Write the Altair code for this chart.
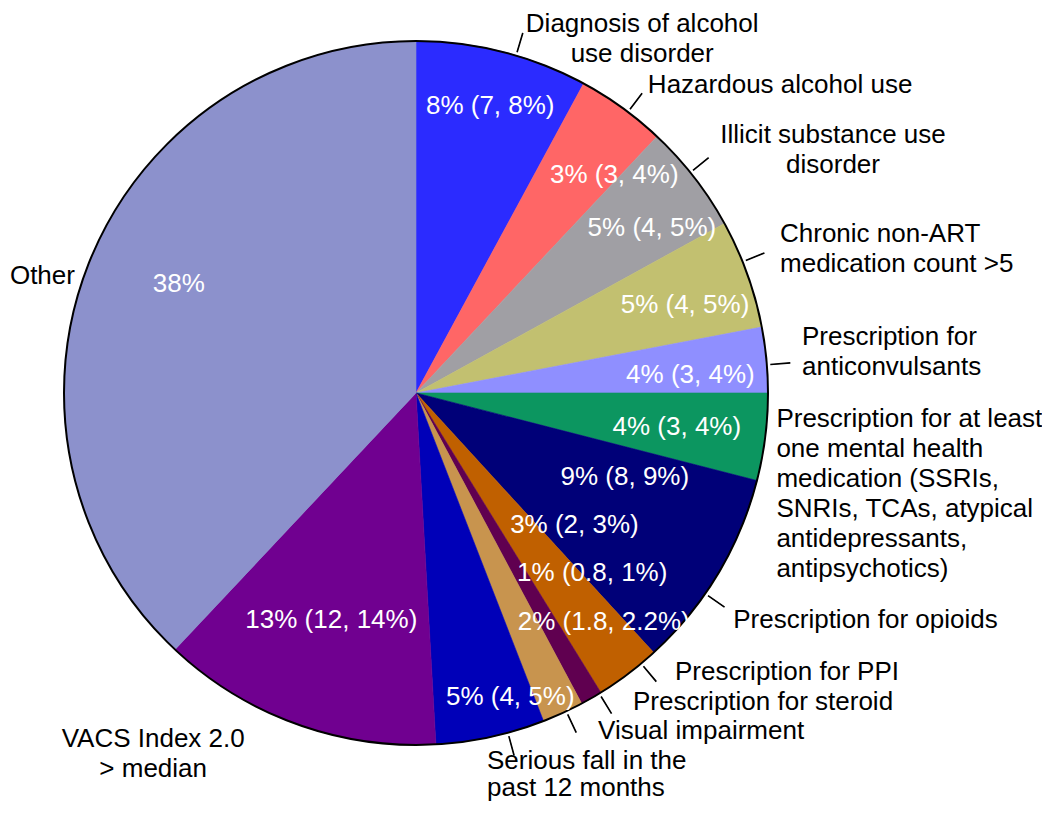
import altair as alt
import pandas as pd

# ---------------- data ----------------
categories = [
    "Diagnosis of alcohol use disorder",
    "Hazardous alcohol use",
    "Illicit substance use disorder",
    "Chronic non-ART medication count >5",
    "Prescription for anticonvulsants",
    "Prescription for at least one mental health medication",
    "Prescription for opioids",
    "Prescription for PPI",
    "Prescription for steroid",
    "Visual impairment",
    "Serious fall in the past 12 months",
    "VACS Index 2.0 > median",
    "Other",
]
slice_share = [7.9, 4.1, 5.0, 5.0, 3.0, 4.0, 9.2, 3.0, 1.0, 1.9, 5.0, 12.9, 38.0]
estimate_labels = [
    "8% (7, 8%)", "3% (3, 4%)", "5% (4, 5%)", "5% (4, 5%)", "4% (3, 4%)",
    "4% (3, 4%)", "9% (8, 9%)", "3% (2, 3%)", "1% (0.8, 1%)", "2% (1.8, 2.2%)",
    "5% (4, 5%)", "13% (12, 14%)", "38%",
]
name_labels = [
    "Diagnosis of alcohol\nuse disorder",
    "Hazardous alcohol use",
    "Illicit substance use\ndisorder",
    "Chronic non-ART\nmedication count >5",
    "Prescription for\nanticonvulsants",
    "Prescription for at least\none mental health\nmedication (SSRIs,\nSNRIs, TCAs, atypical\nantidepressants,\nantipsychotics)",
    "Prescription for opioids",
    "Prescription for PPI",
    "Prescription for steroid",
    "Visual impairment",
    "Serious fall in the\npast 12 months",
    "VACS Index 2.0\n> median",
    "Other",
]

# ---------------- styling / label layout ----------------
slice_colors = ["#2B2BFF", "#FF6666", "#A09FA4", "#C2C070", "#8F8FFF", "#0C9660",
                "#000078", "#C06000", "#600050", "#C8944E", "#0000B8", "#700090", "#8C91CC"]
inner_shift_deg = [0.3, 6.4, 2.8, 1.7, 1.6, 0.2, -9.1, -13.2, -14.5, -14.7, -5.0, 0.5, 3.1]
inner_radius = [296, 295, 288, 283, 275, 263, 225, 206, 252, 296, 318, 242, 261]
outer_shift_deg = [17.85, 1.9, 6.9, -2.7, -1.7, -1.8, 5.6, -4.98, -4.55, -3.09, 1.53, 16.6, -3.9]
outer_radius = [426, 379, 486, 394, 389, 362, 395, 386.6, 383.8, 390.9, 382.2, 441, 358]
outer_align = ["center", "left", "center", "left", "left", "left", "left", "left",
               "left", "left", "left", "center", "right"]
outer_line_height = [30, 30, 30, 30, 30, 30, 30, 30, 30, 30, 27.5, 30, 30]
leader_shift_deg = [2.3, 1.2, -1.0, -2.1, 0.8, None, 3.8, -2.7, -1.5, -0.6, -2.9, None, None]

PIE_R = 352
FONT = "Liberation Sans"

# ---------------- tables ----------------
starts, ends, mids = [], [], []
acc = 0.0
for v in slice_share:
    starts.append(acc)
    acc += v
    ends.append(acc)
    mids.append((starts[-1] + ends[-1]) / 2)

slices = pd.DataFrame({
    "cat": categories,
    "a0": starts,
    "a1": ends,
    "est": estimate_labels,
    "ti": [m + s / 3.6 for m, s in zip(mids, inner_shift_deg)],
    "ri": inner_radius,
})

outer = pd.DataFrame({
    "name": name_labels,
    "to": [m + s / 3.6 for m, s in zip(mids, outer_shift_deg)],
    "ro": outer_radius,
    "align": outer_align,
    "lh": outer_line_height,
})

lead_rows = [(m + s / 3.6) for m, s in zip(mids, leader_shift_deg) if s is not None]
leaders = pd.DataFrame({
    "l0": [t - 0.012 for t in lead_rows],
    "l1": [t + 0.012 for t in lead_rows],
})

theta_scale = alt.Scale(domain=[0, 100])
color_scale = alt.Scale(domain=categories, range=slice_colors)

pie = alt.Chart(slices).mark_arc(radius=PIE_R, strokeWidth=0.6).encode(
    theta=alt.Theta("a0:Q", scale=theta_scale),
    theta2="a1:Q",
    color=alt.Color("cat:N", scale=color_scale, legend=None),
    stroke=alt.Stroke("cat:N", scale=color_scale, legend=None),
)

outline = alt.Chart(pd.DataFrame({"s": [0.0], "e": [100.0]})).mark_arc(
    radius=PIE_R, fillOpacity=0, stroke="black", strokeWidth=2
).encode(
    theta=alt.Theta("s:Q", scale=theta_scale),
    theta2="e:Q",
)

leader_marks = alt.Chart(leaders).mark_arc(
    radius=375, radius2=356, fill="black", stroke="black", strokeWidth=1.1
).encode(
    theta=alt.Theta("l0:Q", scale=theta_scale),
    theta2="l1:Q",
)

inner_text = alt.Chart(slices).mark_text(
    font=FONT, fontSize=26, color="white", align="center", baseline="middle"
).encode(
    theta=alt.Theta("ti:Q", scale=theta_scale),
    radius=alt.Radius("ri:Q", scale=None),
    text="est:N",
)

outer_layers = []
for a in ["left", "center", "right"]:
    for lh in sorted(set(outer_line_height)):
        outer_layers.append(
            alt.Chart(outer).transform_filter(
                (alt.datum.align == a) & (alt.datum.lh == lh)
            ).mark_text(
                font=FONT, fontSize=26, color="black", align=a, baseline="alphabetic",
                lineBreak="\n", lineHeight=lh
            ).encode(
                theta=alt.Theta("to:Q", scale=theta_scale),
                radius=alt.Radius("ro:Q", scale=None),
                text="name:N",
            )
        )

chart = alt.layer(pie, outline, leader_marks, inner_text, *outer_layers).properties(
    width=816,
    height=770,
    padding={"left": 0, "top": 0, "right": 218, "bottom": 24},
    autosize=alt.AutoSizeParams(type="none"),
).configure_view(stroke=None)

chart.save("out.html", embed_options={"renderer": "svg", "actions": False})
